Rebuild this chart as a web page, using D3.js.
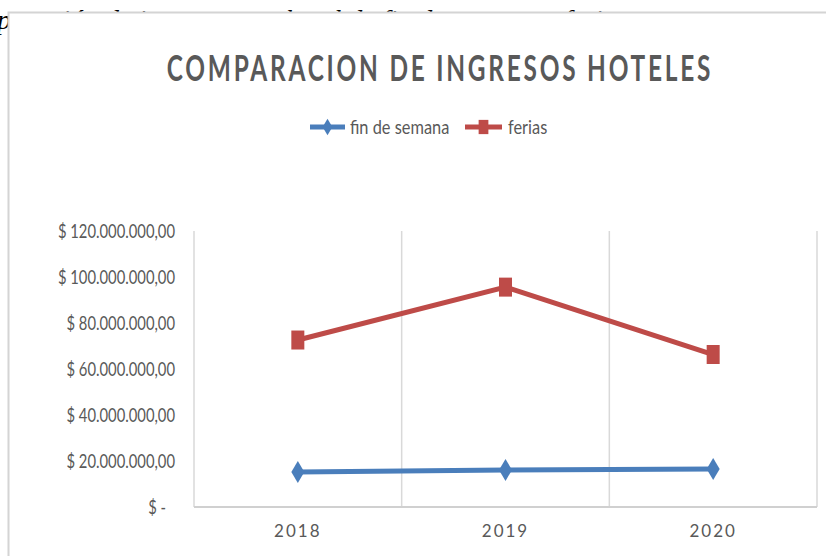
<!DOCTYPE html>
<html><head><meta charset="utf-8">
<script src="https://cdn.jsdelivr.net/npm/d3@7"></script>
<style>body{margin:0;background:#fff}svg{display:block}</style>
</head><body>
<svg id="c" width="826" height="556"></svg>
<script>
const categories = ["2018", "2019", "2020"];
const finDeSemana = [15200000, 16100000, 16500000];
const ferias = [72600000, 95600000, 66300000];
const yTicks = [0, 20000000, 40000000, 60000000, 80000000, 100000000, 120000000];
const seriesNames = ["fin de semana", "ferias"];
const titleText = "COMPARACION DE INGRESOS HOTELES";
const docText = "paración de ingresos por hotel de fin de semana y ferias";

const svg = d3.select("#c");
const grey = "#595959";
const blue = "#4a7ebb", red = "#be4b48";
const SX = 0.8;

// document text behind chart
svg.append("text").attr("x", -3).attr("y", 29)
  .style("font-family", "'Liberation Serif', serif").style("font-style", "italic")
  .style("font-size", "28px").attr("fill", "#000").text(docText);

// chart frame
svg.append("rect").attr("x", 8.5).attr("y", 12.5).attr("width", 840).attr("height", 600)
  .attr("fill", "#fff").attr("stroke", "#d4d4d4").attr("stroke-width", 2);

const x = d3.scaleBand().domain(categories).range([194, 817]).paddingInner(0).paddingOuter(0);
const y = d3.scaleLinear().domain([0, 120000000]).range([507, 231]);

// title
const TS = 0.66;
svg.append("text").attr("x", 440 / TS).attr("y", 81).attr("text-anchor", "middle")
  .attr("transform", `scale(${TS},1)`)
  .style("letter-spacing", "4.2px")
  .style("font-family", "Lato, sans-serif").style("font-weight", "bold").style("font-size", "37px")
  .attr("fill", grey).text(titleText);

// vertical gridlines at category boundaries
const bounds = categories.map(c => x(c)).concat([x.range()[1]]);
svg.append("g").selectAll("line").data(bounds).join("line")
  .attr("x1", d => d).attr("x2", d => d).attr("y1", y(120000000)).attr("y2", y(0))
  .attr("stroke", "#d9d9d9").attr("stroke-width", 1.5);

// bottom axis line
svg.append("line").attr("x1", x.range()[0]).attr("x2", x.range()[1]).attr("y1", y(0)).attr("y2", y(0))
  .attr("stroke", "#d0d0d0").attr("stroke-width", 2);

// y axis
const fmt = v => v === 0 ? "$ -" : "$ " + d3.format(",.2f")(v).replace(/,/g, "X").replace(/\./g, ",").replace(/X/g, ".");
const yAxis = svg.append("g").attr("transform", "translate(194,0)")
  .call(d3.axisLeft(y).tickValues(yTicks).tickFormat(fmt).tickSize(0));
yAxis.select(".domain").remove();
yAxis.selectAll("text")
  .style("font-family", "Lato, sans-serif").style("font-size", "18.5px").attr("fill", grey)
  .attr("x", d => (d === 0 ? -28 : -19) / SX).attr("dy", "0.35em")
  .attr("transform", `scale(${SX},1)`);

// x axis
const xAxis = svg.append("g").attr("transform", `translate(0,${y(0)})`)
  .call(d3.axisBottom(x).tickSize(0));
xAxis.select(".domain").remove();
xAxis.selectAll("text")
  .style("font-family", "Lato, sans-serif").style("font-size", "17px").style("letter-spacing", "2px")
  .attr("fill", grey).attr("y", 18).attr("dy", "0.71em");

const cx = c => x(c) + x.bandwidth() / 2;
const line = d3.line().x(d => cx(d.c)).y(d => y(d.v));
const mk = arr => categories.map((c, i) => ({c, v: arr[i]}));

const diamond = "M0,-11L6.5,0L0,11L-6.5,0Z";
const square = "M-6.5,-9.5H6.5V9.5H-6.5Z";

function series(arr, color, shape) {
  const g = svg.append("g");
  g.append("path").datum(mk(arr)).attr("d", line).attr("fill", "none")
    .attr("stroke", color).attr("stroke-width", 5);
  g.selectAll(".m").data(mk(arr)).join("path").attr("d", shape)
    .attr("transform", d => `translate(${cx(d.c)},${y(d.v)})`).attr("fill", color);
}
series(finDeSemana, blue, diamond);
series(ferias, red, square);

// legend
const LS = 0.84;
const legend = [
  {name: seriesNames[0], color: blue, shape: diamond, x0: 310, x1: 345, tx: 350},
  {name: seriesNames[1], color: red, shape: square, x0: 465, x1: 502, tx: 508}
];
const lg = svg.append("g");
legend.forEach(l => {
  lg.append("line").attr("x1", l.x0).attr("x2", l.x1).attr("y1", 127).attr("y2", 127)
    .attr("stroke", l.color).attr("stroke-width", 5);
  lg.append("path").attr("d", l.shape).attr("transform", `translate(${(l.x0 + l.x1) / 2},127) scale(0.75)`)
    .attr("fill", l.color);
  lg.append("text").attr("x", l.tx / LS).attr("y", 134).attr("transform", `scale(${LS},1)`)
    .style("font-family", "Lato, sans-serif").style("font-size", "19.5px").attr("fill", grey).text(l.name);
});
</script>
</body></html>
